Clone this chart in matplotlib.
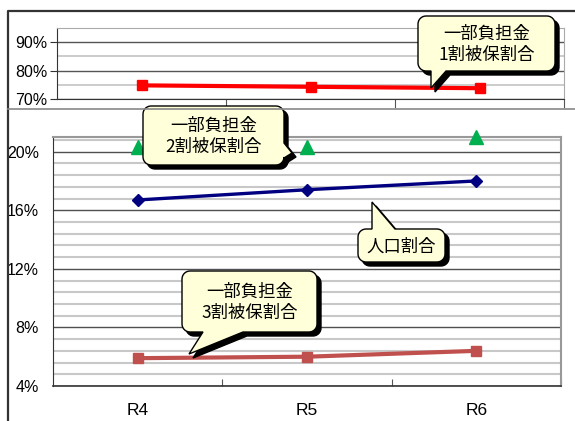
import numpy as np
import matplotlib
matplotlib.use("Agg")
import matplotlib.pyplot as plt
from matplotlib.patches import Polygon

W, H, DPI = 575, 421, 100

years = ["R4", "R5", "R6"]
rate_1wari = [74.8, 74.3, 73.8]      # 一部負担金1割被保割合 (top panel)
rate_2wari = [20.3, 20.3, 21.0]      # 一部負担金2割被保割合
population = [16.7, 17.4, 18.0]      # 人口割合
rate_3wari = [5.9, 6.0, 6.4]         # 一部負担金3割被保割合

top_ticks = [70, 80, 90]
bot_ticks = [4, 8, 12, 16, 20]

NUM_FONT = ["Liberation Sans Narrow", "Liberation Sans", "DejaVu Sans"]
JP_FONT = ["Noto Sans CJK JP", "DejaVu Sans"]
CREAM = "#FFFFD9"


def px_axes(fig, left, top, right, bottom):
    return fig.add_axes([left / W, 1 - bottom / H, (right - left) / W, (bottom - top) / H])


def callout_path(x0, y0, x1, y1, r, edge, a, b, tip):
    """Rounded box (y grows downward) with a pointer inserted on one edge."""
    def arc(cx, cy, t0, t1):
        t = np.radians(np.linspace(t0, t1, 8))
        return list(zip(cx + r * np.cos(t), cy + r * np.sin(t)))
    pts = []
    pts += [(x0 + r, y0)]
    if edge == "top":
        pts += [(a, y0), tip, (b, y0)]
    pts += [(x1 - r, y0)] + arc(x1 - r, y0 + r, -90, 0)
    if edge == "right":
        pts += [(x1, a), tip, (x1, b)]
    pts += [(x1, y1 - r)] + arc(x1 - r, y1 - r, 0, 90)
    if edge == "bottom":
        pts += [(b, y1), tip, (a, y1)]
    pts += [(x0 + r, y1)] + arc(x0 + r, y1 - r, 90, 180)
    pts += [(x0, y0 + r)] + arc(x0 + r, y0 + r, 180, 270)
    return np.array(pts)


def callout(ax, box, edge, a, b, tip, text):
    x0, y0, x1, y1 = box
    pts = callout_path(x0, y0, x1, y1, 8, edge, a, b, tip)
    ax.add_patch(Polygon(pts + [4, 4], closed=True, fc="black", ec="black", lw=1))
    ax.add_patch(Polygon(pts, closed=True, fc=CREAM, ec="black", lw=1))
    ax.text((x0 + x1) / 2, (y0 + y1) / 2 + 1, text, ha="center", va="center",
            fontsize=12.5, family=JP_FONT, linespacing=1.2, color="black")


fig = plt.figure(figsize=(W / DPI, H / DPI), dpi=DPI)
x = np.arange(len(years))

# ---- top panel (1割) ----
ax1 = px_axes(fig, 57, 28, 564, 99)
ax1.plot(x, rate_1wari, color="#FF0000", lw=3, marker="s", ms=7.5, zorder=3)
ax1.set_xlim(-0.5, 2.5)
ax1.set_ylim(70, 95)
ax1.set_yticks(top_ticks)
ax1.set_yticklabels([f"{v}%" for v in top_ticks], family=NUM_FONT, fontsize=11.5)
ax1.set_yticks([75, 85, 95], minor=True)
ax1.grid(axis="y", which="major", color="#555555", lw=1)
ax1.grid(axis="y", which="minor", color="#C8C8C8", lw=1.3)
ax1.set_xticks([0.5, 1.5, 2.5])
ax1.set_xticklabels([])
ax1.tick_params(axis="x", direction="out", length=6.5, color="#555555", width=0.8)
ax1.tick_params(axis="y", which="major", direction="out", length=5, color="#333333", pad=2)
ax1.tick_params(axis="y", which="minor", length=0)
for s in ["top", "right"]:
    ax1.spines[s].set_color("#AAAAAA")
ax1.spines["left"].set_color("#333333")
ax1.spines["bottom"].set_color("#333333")

# ---- bottom panel ----
ax2 = px_axes(fig, 53, 137, 561, 386)
ax2.plot(x, rate_3wari, color="#C0504D", lw=3, marker="s", ms=7.5, zorder=3)
ax2.plot(x, population, color="#000080", lw=2.4, marker="D", ms=6, zorder=3)
ax2.plot(x, rate_2wari, ls="none", color="#00B050", marker="^", ms=10, zorder=4, clip_on=False)
ax2.set_xlim(-0.5, 2.5)
ax2.set_ylim(4, 21)
ax2.set_yticks(bot_ticks)
ax2.set_yticklabels([f"{v}%" for v in bot_ticks], family=NUM_FONT, fontsize=11.5)
ax2.set_yticks(np.arange(4, 21.01, 0.8), minor=True)
ax2.grid(axis="y", which="major", color="#505050", lw=1)
ax2.grid(axis="y", which="minor", color="#C8C8C8", lw=1.5)
ax2.tick_params(axis="y", which="both", length=0, pad=10)
ax2.set_xticks(x)
ax2.set_xticklabels(years, family=NUM_FONT, fontsize=12.5)
ax2.set_xticks([0.5, 1.5, 2.5], minor=True)
ax2.tick_params(axis="x", which="major", length=0, pad=12)
ax2.tick_params(axis="x", which="minor", direction="in", length=5, color="#555555", width=0.8)
for s in ["top", "right"]:
    ax2.spines[s].set_color("#999999")
    ax2.spines[s].set_linewidth(1.5)
ax2.spines["left"].set_color("#333333")
ax2.spines["bottom"].set_color("#333333")
ax2.spines["bottom"].set_linewidth(1.2)

# ---- overlay: outer frame + callouts ----
ov = fig.add_axes([0, 0, 1, 1], zorder=10)
ov.set_xlim(0, W)
ov.set_ylim(H, 0)
ov.axis("off")
ov.plot([8, 8, W], [H, 11, 11], color="#333333", lw=1.6)
ov.plot([8, W], [109, 109], color="#888888", lw=1.2)

callout(ov, (418, 16, 555, 71), "bottom", 431, 446, (431, 88), "一部負担金\n1割被保割合")
callout(ov, (143, 106, 284, 165), "right", 143, 158, (292, 153), "一部負担金\n2割被保割合")
callout(ov, (358, 229, 445, 262), "top", 372, 395, (372, 202), "人口割合")
callout(ov, (182, 271, 317, 332), "bottom", 203, 243, (189, 354), "一部負担金\n3割被保割合")

fig.savefig("out.png", dpi=DPI)
